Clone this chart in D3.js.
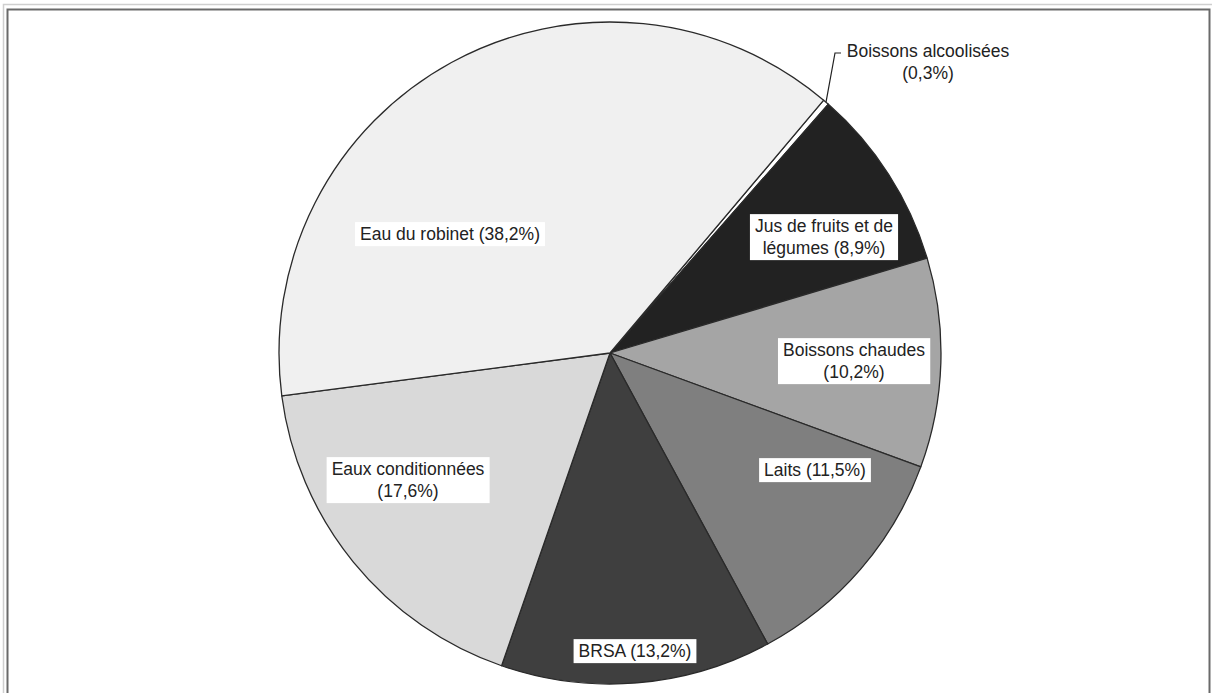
<!DOCTYPE html>
<html><head><meta charset="utf-8">
<script src="https://cdn.jsdelivr.net/npm/d3@7"></script>
<style>html,body{margin:0;padding:0;background:#fff;}svg{display:block;}</style>
</head><body>
<svg id="chart" width="1212" height="693"></svg>
<script>
const categories = ["Boissons alcoolisées", "Jus de fruits et de légumes", "Boissons chaudes", "Laits", "BRSA", "Eaux conditionnées", "Eau du robinet"];
const values = [0.3, 8.9, 10.2, 11.5, 13.2, 17.6, 38.2];
const labelLines = [
  ["Boissons alcoolisées", "(0,3%)"],
  ["Jus de fruits et de", "légumes (8,9%)"],
  ["Boissons chaudes", "(10,2%)"],
  ["Laits (11,5%)"],
  ["BRSA (13,2%)"],
  ["Eaux conditionnées", "(17,6%)"],
  ["Eau du robinet (38,2%)"]
];
const fills = ["#ffffff", "#222222", "#a5a5a5", "#7f7f7f", "#3f3f3f", "#d9d9d9", "#f0f0f0"];
// label centres relative to pie centre (px)
const labelPos = [[318, -291], [214, -116], [244, 8], [205, 117], [25, 298], [-202, 127], [-160, -119]];

const W = 1212, H = 693;
const cx = 610, cy = 353, R = 331;
const svg = d3.select("#chart");

// frame
svg.append("rect").attr("x", 3.5).attr("y", 4.5).attr("width", 1220).attr("height", 700)
  .attr("fill", "none").attr("stroke", "#cfcfcf").attr("stroke-width", 1.5);
svg.append("rect").attr("x", 7.5).attr("y", 9.5).attr("width", 1202).attr("height", 700)
  .attr("fill", "none").attr("stroke", "#6a6a6a").attr("stroke-width", 2);

const start = 40.2 * Math.PI / 180;
const pie = d3.pie().sort(null).value(d => d).startAngle(start).endAngle(start + 2 * Math.PI);
const arcs = pie(values);
const arc = d3.arc().innerRadius(0).outerRadius(R);

const g = svg.append("g").attr("transform", `translate(${cx},${cy})`);
g.selectAll("path.slice").data(arcs).join("path")
  .attr("class", "slice")
  .attr("d", arc)
  .attr("fill", (d, i) => fills[i])
  .attr("stroke", "#2a2a2a")
  .attr("stroke-width", 1.3)
  .attr("stroke-linejoin", "round");

// leader line for small slice
const a0 = arcs[0];
const mid = (a0.startAngle + a0.endAngle) / 2;
const p0 = [Math.sin(mid) * R, -Math.cos(mid) * R];
g.append("path")
  .attr("d", d3.line()([p0, [225, -300], [231, -300]]))
  .attr("fill", "none").attr("stroke", "#222").attr("stroke-width", 1.2);

const fontSize = 17.5, lh = 22;
labelLines.forEach((lines, i) => {
  const [lx, ly] = labelPos[i];
  const lg = g.append("g").attr("transform", `translate(${lx},${ly})`);
  const txt = lg.append("text")
    .attr("font-family", "Liberation Sans, Arial, sans-serif")
    .attr("font-size", fontSize)
    .attr("fill", "#222")
    .attr("text-anchor", "middle");
  lines.forEach((t, k) => {
    txt.append("tspan").attr("x", 0)
      .attr("y", (k - (lines.length - 1) / 2) * lh)
      .attr("dy", "0.35em").text(t);
  });
  if (i > 0) {
    const bb = txt.node().getBBox();
    lg.insert("rect", "text")
      .attr("x", bb.x - 5).attr("y", bb.y - 2)
      .attr("width", bb.width + 10).attr("height", bb.height + 4)
      .attr("fill", "#fff");
  }
});
</script>
</body></html>
